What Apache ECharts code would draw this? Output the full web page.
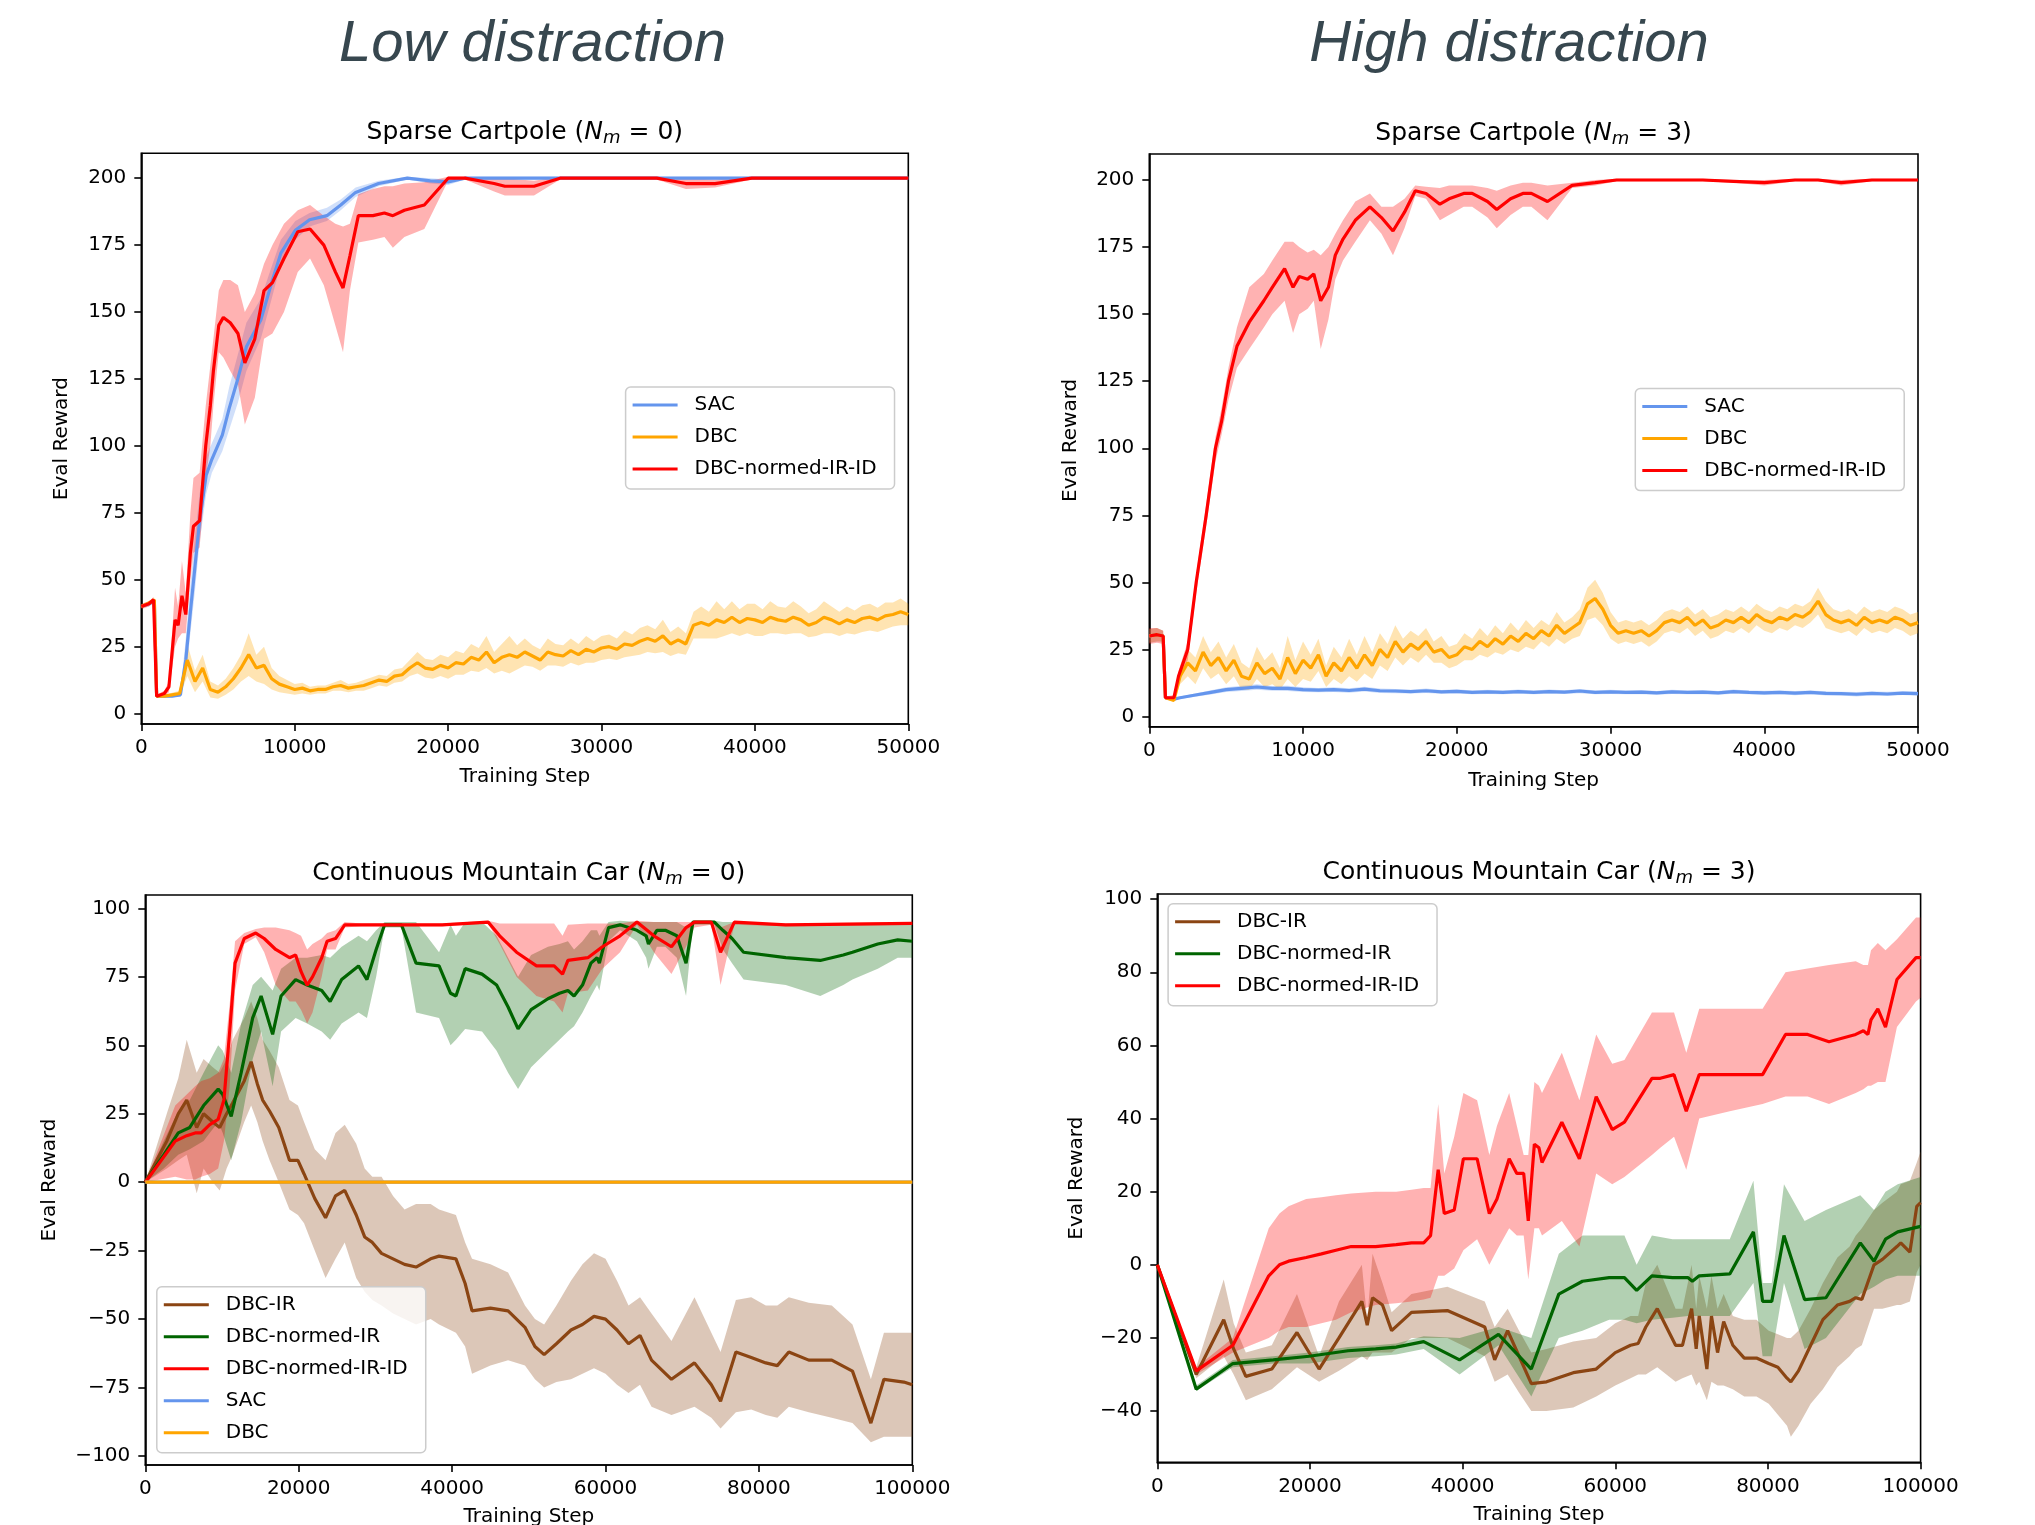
<!DOCTYPE html>
<html>
<head>
<meta charset="utf-8">
<title>DBC - distraction</title>
<script src="https://cdn.jsdelivr.net/npm/echarts@6/dist/echarts.min.js"></script>
<style>
    html, body { margin: 0; padding: 0; background: #ffffff; }
    #chart { width: 2035px; height: 1525px; }
</style>
</head>
<body>
<div id="chart"></div>
<script>
// grille de pas réguliers (axe des étapes d'entraînement)
function grille(debut, pas, fin) {
    const r = [];
    for (let x = debut; x <= fin; x += pas) r.push(x);
    return r;
}

// === Sparse Cartpole (Nm = 0) ===
const p1SacX = [0, 500, 850, 1000, 1500, 2000, 2550, 2900, 3200, 3500, 3800, 4230, 4600, 5280, 5730, 6290, 6850, 7790, 8500, 9100, 10040, 10970, 12100, 13000, 13970, 15470, 17340, 18840, 20000, 21100, 30000, 40000, 50000];
const p1SacY = [40, 41, 42, 6.5, 6.5, 6.5, 7, 20, 38, 55, 72, 89, 95, 104, 114, 125, 137, 147, 161, 172, 180.5, 184.5, 186, 190, 194.7, 198, 200, 199, 198.6, 200, 200, 200, 200];
const p1SacBas = [39.5, 40, 41.5, 6, 6, 6, 6.5, 14, 30, 46, 64, 82, 90, 98, 106, 116, 128, 140, 155, 168, 177, 182, 184, 188, 193, 197, 199.5, 198, 197.5, 199.5, 199.5, 199.5, 199.5];
const p1SacHaut = [40.5, 42, 42.5, 7, 7, 7, 8, 28, 48, 66, 82, 96, 101, 110, 122, 134, 146, 155, 167, 177, 184, 187, 189, 192, 196.5, 199, 200.5, 200, 199.5, 200.5, 200.5, 200.5, 200.5];

const p1DbcX = [0, 400, 850].concat(grille(1000, 500, 50000));
const p1DbcY = [40, 41, 42.5,
    6.5, 6.5, 7, 7.5, 20, 12, 17, 9, 8, 10,
    13, 17, 22, 17, 18, 13, 11, 10, 9, 9.5,
    8.5, 9, 9, 10, 10.5, 9.5, 10, 10.5, 11.5, 12.5,
    12, 14, 14.5, 17, 19, 17, 16.5, 18, 17, 19,
    18.5, 21, 20, 23, 19, 21, 22, 21, 23, 21.5,
    20, 23, 22, 21.5, 23.5, 22, 24, 23, 24.5, 25,
    24, 26, 25.5, 27, 28, 27, 29, 26, 27.5, 26,
    33, 34, 33, 35, 34, 36, 34, 35.5, 35, 34,
    36, 35, 34.5, 36, 35, 33, 34, 36, 35, 33.5,
    35, 34, 35.5, 36, 35, 36.5, 37, 38, 37];
const p1DbcEcart = [0.5, 0.8, 0.8,
    0.5, 0.5, 0.8, 1, 6, 4, 5, 3, 2.5, 3,
    4, 5, 8, 5, 7, 4, 3, 2.5, 2, 2,
    1.5, 1.5, 1.5, 1.5, 2, 1.5, 1.5, 2, 2, 2,
    2, 2.5, 2.5, 3, 4, 3.5, 3.5, 4, 4, 4.5,
    4, 5, 4.5, 6, 4, 5, 7, 4.5, 5, 4,
    4, 5, 4, 4, 4.5, 4, 5, 4, 4.5, 4.5,
    4, 5, 4, 5, 5, 4.5, 6, 4.5, 5, 4,
    5, 6, 5, 7, 5, 6, 5, 5.5, 6, 5,
    6, 5, 5, 6, 5, 4.5, 5, 6, 5, 4.5,
    5, 4.5, 5, 5, 4.5, 5, 4.5, 5, 4];

const p1RedX = [0, 500, 800, 1000, 1500, 1800, 2200, 2400, 2650, 2900, 3200, 3400, 3800, 4200, 4500, 4700, 5050, 5350, 5800, 6300, 6750, 7400, 8000, 8550, 9300, 10200, 11000, 11900, 12650, 13150, 13600, 14150, 15100, 15850, 16400, 17150, 18450, 20000, 21100, 23000, 23700, 25600, 27300, 33600, 35500, 37400, 39800, 50000];
const p1RedY = [40, 41, 42.5, 6.5, 7.5, 10, 35, 33, 44, 37, 60, 70, 72, 100, 115, 128, 145, 148, 146, 142, 131, 140, 158, 161, 170, 180, 181, 175, 165, 159, 171, 186, 186, 187, 186, 188, 190, 200, 200, 198, 197, 197, 200, 200, 198, 198, 200, 200];
const p1RedBas = [39, 40, 41.5, 6, 6.5, 8, 25, 28, 30, 30, 50, 60, 62, 88, 100, 115, 135, 133, 128, 123, 108, 118, 140, 142, 150, 165, 170, 160, 145, 135, 158, 176, 177, 178, 174, 178, 181, 199, 199.5, 195, 193.5, 193.5, 199.5, 199.5, 196, 196.5, 199.5, 199.5];
const p1RedHaut = [41, 42, 43.5, 7, 8.5, 12, 47, 40, 57, 45, 75, 88, 90, 115, 130, 140, 158, 162, 162, 160, 150, 157, 168, 175, 183, 188, 190, 186, 183, 182, 183, 194, 196, 197, 197, 198, 198.5, 200.5, 200.5, 200, 200, 199, 200.5, 200.5, 200, 199.5, 200.5, 200.5];

// === Sparse Cartpole (Nm = 3) ===
const p2SacX = [0, 500, 900, 1050, 1600].concat(grille(2000, 1000, 50000));
const p2SacY = [30, 30.5, 30, 7, 6.5,
    7, 8, 9, 10, 10.5, 11, 10.5, 10.5, 10, 9.8,
    10, 9.7, 10.2, 9.6, 9.5, 9.3, 9.6, 9.2, 9.4, 9,
    9.2, 9, 9.3, 9, 9.3, 9.1, 9.5, 9, 9.2, 9,
    9.1, 8.8, 9.2, 9, 9.1, 8.8, 9.3, 9, 8.8, 9,
    8.7, 9, 8.6, 8.5, 8.3, 8.6, 8.4, 8.7, 8.5];
const p2SacEcart = [2.5, 2.5, 2, 0.5, 0.5,
    0.5, 0.6, 0.8, 0.9, 1, 1, 0.9, 1, 0.9, 0.8,
    0.9, 0.8, 0.9, 0.8, 0.8, 0.7, 0.8, 0.7, 0.8, 0.7,
    0.8, 0.7, 0.8, 0.7, 0.8, 0.7, 0.8, 0.7, 0.8, 0.7,
    0.8, 0.7, 0.8, 0.7, 0.8, 0.7, 0.8, 0.7, 0.8, 0.7,
    0.8, 0.7, 0.8, 0.7, 0.8, 0.7, 0.8, 0.7, 0.8];

const p2DbcX = [0, 500, 900, 1050, 1600].concat(grille(2000, 500, 50000));
const p2DbcY = [30, 30.5, 30, 7, 6,
    15, 20, 17, 24, 19, 22, 17, 21, 15, 14,
    20, 16, 18, 14, 22, 16, 21, 18, 23, 15,
    20, 17, 22, 18, 23, 19, 25, 22, 28, 24,
    27, 25, 28, 24, 25, 22, 23, 26, 25, 28,
    26, 29, 27, 30, 28, 31, 29, 32, 30, 34,
    31, 33, 35, 42, 44, 40, 34, 31, 32, 31,
    32, 30, 32, 35, 36, 35, 37, 34, 36, 33,
    34, 36, 35, 37, 35, 38, 36, 35, 37, 36,
    38, 37, 39, 43, 38, 36, 35, 36, 34, 37,
    35, 36, 35, 37, 36, 34, 35];
const p2DbcEcart = [2.5, 2.5, 2, 0.5, 0.5,
    3, 5, 5, 6, 5, 6, 5, 6, 5, 4,
    6, 5, 6, 4, 8, 5, 7, 5, 6, 4,
    6, 5, 7, 5, 7, 5, 6, 5, 6, 5,
    5, 5, 5, 4, 5, 4, 4, 5, 4, 5,
    4, 5, 4, 5, 4, 5, 4, 4, 4, 5,
    4, 4, 5, 6, 7, 6, 5, 4, 4, 4,
    4, 4, 4, 4, 4, 4, 4, 4, 4, 4,
    4, 4, 4, 4, 4, 4, 4, 4, 4, 4,
    4, 4, 4, 5, 5, 4, 4, 4, 4, 4,
    4, 4, 4, 4, 4, 4, 4];

const p2RedX = [0, 500, 900, 1050, 1600, 1900, 2500, 3050, 3700, 4300, 4700, 5150, 5700, 6500, 7450, 8000, 8800, 9350, 9750, 10300, 10700, 11150, 11650, 12100, 12600, 13400, 14350, 15100, 15850, 16600, 17300, 18000, 18900, 19500, 20450, 21000, 22000, 22600, 23500, 24300, 24850, 25900, 27500, 29000, 30400, 36000, 38000, 40000, 42000, 43500, 45000, 47000, 50000];
const p2RedY = [30, 30.5, 30, 7, 7, 15, 25, 50, 75, 100, 110, 125, 138, 147, 155, 160, 167, 160, 164, 163, 165, 155, 160, 172, 178, 185, 190, 186, 181, 188, 196, 195, 191, 193, 195, 195, 192, 189, 193, 195, 195, 192, 198, 199, 200, 200, 199.5, 199, 200, 200, 199, 200, 200];
const p2RedBas = [27, 27.5, 27, 6.5, 6, 12, 21, 46, 71, 95, 105, 118, 130, 137, 145, 150, 155, 143, 150, 152, 155, 137, 148, 163, 170, 177, 185, 180, 172, 182, 194, 193, 185, 187, 190, 190, 186, 182, 187, 190, 190, 185, 197, 198, 199.5, 199.5, 199, 198, 199.5, 199.5, 198, 199.5, 199.5];
const p2RedHaut = [33, 33, 32, 7.5, 8, 17, 28, 53, 79, 104, 115, 130, 145, 160, 165, 170, 177, 177, 175, 173, 174, 172, 175, 180, 185, 192, 195, 190, 190, 193, 198, 197.5, 197, 198, 198, 198, 197, 196, 198, 199, 199, 198, 199, 200, 200.5, 200.5, 200, 200, 200.5, 200.5, 200, 200.5, 200.5];

// === Continuous Mountain Car (Nm = 0) ===
const p3BrunX = [0, 2800, 4300, 5400, 6700, 7600, 8800, 9700, 10600, 11400, 12900, 13800, 14600, 15300, 16200, 17400, 18100, 18800, 19900, 20700, 22100, 23500, 24800, 26000, 27500, 28600, 29600, 30800, 32300, 33800, 35300, 37200, 38300, 40500, 41700, 42600, 45000, 47300, 49500, 50800, 52000, 53600, 55500, 57000, 58500, 60000, 61500, 63000, 64500, 66000, 68600, 71600, 73800, 75000, 77000, 79000, 80900, 82400, 83900, 86500, 89500, 92200, 94600, 96300, 98900, 100000];
const p3BrunY = [0, 15, 25, 30, 20, 25, 22, 20, 25, 29, 37, 44, 36, 30, 26, 20, 14, 8, 8, 3, -6, -13, -5, -3, -12, -20, -22, -26, -28, -30, -31, -28, -27, -28, -37, -47, -46, -47, -53, -60, -63, -59, -54, -52, -49, -50, -54, -59, -56, -65, -72, -66, -74, -80, -62, -64, -66, -67, -62, -65, -65, -69, -88, -72, -73, -74];
const p3BrunBas = [0, 5, 8, 10, -4, 5, 0, -3, 5, 10, 22, 28, 22, 15, 8, 0, -5, -10, -12, -15, -25, -35, -28, -22, -35, -40, -43, -45, -48, -50, -52, -50, -52, -55, -60, -70, -67, -65, -67, -72, -75, -73, -72, -70, -68, -70, -74, -77, -74, -82, -85, -82, -86, -90, -84, -83, -85, -86, -82, -84, -86, -88, -95, -93, -93, -93];
const p3BrunHaut = [0, 25, 38, 52, 40, 45, 42, 40, 45, 52, 60, 66, 60, 52, 48, 42, 36, 30, 28, 22, 12, 8, 18, 21, 14, 5, 2, 2, -5, -10, -8, -8, -10, -12, -22, -28, -30, -33, -45, -50, -52, -45, -36, -30, -26, -28, -36, -45, -42, -48, -58, -42, -55, -62, -43, -42, -45, -45, -42, -44, -45, -52, -72, -55, -55, -55];

const p3VertX = [0, 2400, 4300, 5800, 7600, 9500, 10100, 11200, 12500, 14000, 15100, 16600, 17700, 19600, 21100, 23000, 24100, 25600, 27800, 28900, 30100, 31200, 33400, 35300, 38300, 39800, 40500, 41700, 43900, 45800, 47300, 48600, 50300, 52500, 54000, 55100, 55900, 57000, 58100, 58900, 59200, 60400, 61900, 64100, 65300, 65600, 66700, 67800, 69300, 70500, 71400, 74200, 75300, 76500, 78000, 83500, 88000, 91000, 92200, 95500, 98100, 100000];
const p3VertY = [0, 10, 18, 20, 28, 34, 32, 24, 40, 60, 68, 54, 68, 74, 72, 70, 66, 74, 79, 74, 85, 94, 94, 80, 79, 69, 68, 78, 76, 72, 64, 56, 63, 67, 69, 70, 68, 72, 80, 82, 80, 93, 94, 92, 90, 87, 92, 92, 90, 80, 95, 95, 92, 89, 84, 82, 81, 83, 84, 87, 88.5, 88];
const p3VertBas = [0, 5, 10, 12, 15, 22, 18, 8, 22, 45, 55, 35, 55, 60, 58, 55, 52, 58, 62, 60, 75, 93, 93, 62, 60, 50, 52, 56, 55, 48, 40, 34, 42, 48, 52, 55, 57, 62, 68, 72, 70, 88, 92, 88, 82, 78, 86, 86, 82, 68, 94, 94, 85, 80, 74, 72, 68, 72, 74, 78, 82, 82];
const p3VertHaut = [0, 15, 26, 30, 40, 50, 48, 40, 58, 72, 75, 70, 78, 82, 82, 83, 82, 86, 90, 88, 92, 95, 95, 95, 84, 94, 90, 95, 95, 90, 82, 75, 83, 86, 87, 88, 85, 88, 92, 92, 90, 95, 95.5, 95, 95, 95, 95, 95, 95, 93, 95.5, 95.5, 95, 95, 95, 94, 94, 94, 94, 94, 94.5, 94.5];

const p3RedX = [0, 3900, 5400, 6500, 7300, 8400, 9500, 10250, 11000, 11700, 12900, 14400, 15500, 17000, 18800, 19600, 20300, 21100, 21800, 23000, 23700, 24800, 26000, 28200, 38700, 44700, 46200, 48400, 51000, 53300, 54400, 55100, 57700, 59600, 61900, 64100, 66300, 68600, 70500, 71600, 73800, 75000, 76800, 83500, 100000];
const p3RedY = [0, 15, 17, 18, 18, 21, 23, 30, 55, 80, 89, 91, 89, 85, 82, 83, 77, 72, 75, 82, 88, 89, 94, 94, 94, 95, 90, 84, 79, 79, 76, 81, 82, 86, 90, 95, 90, 86, 93, 95, 95, 84, 95, 94, 94.5];
const p3RedBas = [0, 2, 1, 1, 2, 3, 5, 15, 35, 70, 87, 89.5, 84, 72, 66, 66, 63, 58, 62, 75, 85, 85, 93, 93.5, 93.5, 94.5, 87, 75, 68, 66, 62, 69, 70, 78, 84, 94, 84, 76, 86, 93, 94, 72, 94, 93.5, 94];
const p3RedHaut = [0, 28, 32, 35, 37, 38, 40, 45, 65, 88, 91, 92.5, 93, 93, 92, 91, 90, 85, 87, 89, 91, 92, 95, 94.5, 94.5, 95.5, 94.5, 94.5, 94.5, 94.5, 90, 94, 94.5, 94.5, 94.5, 95.5, 95, 95, 95, 95, 95, 93, 95, 94.5, 95];

const p3PlatX = [0, 100000];
const p3PlatY = [0, 0];

// === Continuous Mountain Car (Nm = 3) ===
const p4BrunX = [0, 5100, 8700, 10000, 11600, 15000, 18300, 21200, 23800, 26800, 27500, 28200, 29500, 30700, 33300, 38000, 42900, 44200, 45900, 47400, 49000, 51000, 54500, 57500, 60000, 62000, 63000, 64000, 65500, 67900, 68800, 70000, 70600, 71000, 72000, 72600, 73400, 74200, 75400, 76900, 78500, 80100, 81300, 82500, 83000, 84000, 85600, 87200, 89100, 90700, 91500, 92300, 93900, 95000, 96900, 97400, 98600, 99500, 100000];
const p4BrunY = [0, -30, -15, -23, -30.5, -28.5, -18.5, -28.5, -20, -10, -16.5, -9, -11, -18, -13, -12.5, -17, -26, -18, -25, -32.5, -32, -29.5, -28.5, -24, -22, -21.5, -17, -12, -22, -22, -12, -23, -14, -28.5, -14, -24, -15.5, -22, -25.5, -25.5, -27, -28, -31, -32, -29, -22, -15, -11, -10, -9, -9.5, 0, 1.5, 5, 6, 3.5, 16, 17];
const p4BrunBas = [0, -31, -25, -30, -37, -34, -28, -32, -29, -25, -26, -24, -24, -24, -20, -20, -25, -32, -30, -35, -40, -40, -39, -36, -33, -31, -30, -30, -28, -32, -31, -30, -33, -32, -37, -32, -33, -33, -34, -36, -36, -38, -41, -44, -47, -44, -38, -34, -28, -25, -23, -22, -12, -12, -11, -11, -10, -2, 0];
const p4BrunHaut = [0, -28, -4, -16, -24, -22, -8, -25, -10, 0, -15, 3, -5, -13, -8, -6, -10, -17, -12, -18, -24, -23, -21, -20, -16, -14, -14, -5, 0, -12, -12, 0, -12, -3, -12, -3, -12, -8, -14, -15, -15, -18, -19, -20, -20, -18, -12, -5, 2, 5, 8, 10, 15, 17, 20, 22, 23, 28, 31];

const p4VertX = [0, 5100, 9900, 15200, 19900, 25000, 28600, 31300, 34900, 39600, 44700, 49000, 52600, 55700, 59200, 61200, 62800, 64800, 67500, 69500, 70100, 71000, 75000, 78100, 79300, 80500, 82100, 84800, 87600, 92100, 93900, 95400, 97000, 100000];
const p4VertY = [0, -34, -27, -26, -25, -23.5, -23, -22.5, -21, -26, -19, -28.5, -8, -4.5, -3.5, -3.5, -7, -3, -3.5, -3.5, -4.5, -3, -2.5, 9, -10, -10, 8, -9.5, -9, 6, 1, 7, 9, 10.5];
const p4VertBas = [0, -34.5, -28, -27, -27, -25.5, -25, -24.5, -23, -30, -22, -36, -20, -18, -15, -15, -16, -15, -14.5, -14, -14, -14, -14, -5, -25, -25, -5, -23, -20, -8, -6, -4, -3, -3];
const p4VertHaut = [0, -33, -26, -25, -24, -22.5, -22, -21.5, -19.5, -20, -17, -20, 3, 8, 8, 8, 0, 8, 7, 7, 7, 7, 7, 23, -5, -5, 22, 12, 15, 19, 15, 20, 22, 24];

const p4RedX = [0, 5100, 9900, 14600, 16000, 17200, 19500, 21500, 23400, 25400, 28600, 31300, 33300, 34900, 35800, 36800, 37600, 38900, 40100, 41900, 43500, 44500, 46100, 47100, 48000, 48600, 49400, 50000, 50400, 53000, 55300, 57500, 59600, 61200, 64800, 65900, 67700, 69300, 71000, 75000, 79300, 82300, 85200, 88000, 91500, 92500, 93100, 93500, 94400, 95400, 96900, 99400, 100000];
const p4RedY = [0, -29, -22, -3, 0, 1, 2, 3, 4, 5, 5, 5.5, 6, 6, 8, 26, 14, 15, 29, 29, 14, 18, 29, 25, 25, 12, 33, 32, 28, 39, 29, 46, 37, 39, 51, 51, 52, 42, 52, 52, 52, 63, 63, 61, 63, 64, 63, 67, 70, 65, 78, 84, 84];
const p4RedBas = [0, -30, -24, -20, -18, -17, -17, -16, -15, -13, -11, -10.5, -10, -9.5, -9, -3, -3, -1, 4, 7, 0, 4, 10, 8, 8, -4, 10, 10, 8, 12, 5, 25, 22, 24, 30, 32, 35, 26, 40, 42, 44, 46, 46, 44, 47, 48, 49, 49, 50, 50, 65, 72, 73];
const p4RedHaut = [0, -28, -20, 10, 14, 16, 18, 18.5, 19, 19.5, 20, 20, 20.5, 21, 21, 44, 25, 35, 47, 45, 30, 38, 47, 38, 30, 30, 50, 49, 47, 58, 45, 63, 55, 56, 69, 69, 69, 58, 70, 70, 70, 80, 81, 82, 83, 82, 82, 86, 88, 86, 89, 95, 95];

// graduations
const ticksCartpole = [0, 25, 50, 75, 100, 125, 150, 175, 200];
const ticksCar0 = [-100, -75, -50, -25, 0, 25, 50, 75, 100];
const ticksCar3 = [-40, -20, 0, 20, 40, 60, 80, 100];

// couleurs
const BLEU = "#6495ED", ORANGE = "#FFA500", ROUGE = "#FF0000", BRUN = "#8B4513", VERT = "#006400";
const FOND = {
    [BLEU]: "rgba(100,149,237,0.3)",
    [ORANGE]: "rgba(255,165,0,0.3)",
    [ROUGE]: "rgba(255,0,0,0.3)",
    [BRUN]: "rgba(139,69,19,0.3)",
    [VERT]: "rgba(0,100,0,0.3)"
};
const POLICE = "'DejaVu Sans', 'Liberation Sans', sans-serif";

function points(xs, ys) {
    return xs.map((x, i) => [x, ys[i]]);
}
function decale(ys, ecarts, signe) {
    return ys.map((y, i) => y + signe * ecarts[i]);
}
function moins(v) {
    return v < 0 ? "\u2212" + (-v) : String(v);
}

function courbe(nom, g, xs, ys, couleur) {
    return {
        name: nom, type: "line", xAxisIndex: g, yAxisIndex: g,
        data: points(xs, ys), symbol: "none", showSymbol: false,
        lineStyle: { color: couleur, width: 3.2 }, itemStyle: { color: couleur },
        z: 3, clip: true
    };
}

// bande d'écart (remplissage entre bas et haut)
function bande(g, xs, bas, haut, couleur) {
    const d = xs.map((x, i) => [x, bas[i], haut[i]]);
    return {
        type: "custom", xAxisIndex: g, yAxisIndex: g, z: 2, silent: true, clip: true,
        data: d, encode: { x: 0, y: [1, 2] },
        renderItem: function (params, api) {
            if (params.dataIndex !== 0) return;
            const dessus = d.map(p => api.coord([p[0], p[2]]));
            const dessous = d.map(p => api.coord([p[0], p[1]])).reverse();
            return {
                type: "polygon",
                shape: { points: dessus.concat(dessous) },
                style: { fill: FOND[couleur] }
            };
        }
    };
}

// positions des 4 graphes
const cadres = [
    { left: 141.3, top: 153.3, width: 767, height: 570.7, ymin: -3.9, ymax: 209.3, xmax: 50000, pas: 10000, ticks: ticksCartpole, gapX: 53, gapY: 80 },
    { left: 1149.3, top: 154, width: 768.7, height: 572.7, ymin: -3.8, ymax: 209.7, xmax: 50000, pas: 10000, ticks: ticksCartpole, gapX: 54, gapY: 79 },
    { left: 145.3, top: 895, width: 767, height: 570, ymin: -103.3, ymax: 104.9, xmax: 100000, pas: 20000, ticks: ticksCar0, gapX: 52, gapY: 96 },
    { left: 1157.3, top: 894, width: 763.3, height: 568.3, ymin: -54, ymax: 101.4, xmax: 100000, pas: 20000, ticks: ticksCar3, gapX: 52, gapY: 81 }
];

const texteAxe = { fontFamily: POLICE, fontSize: 20, color: "#000" };
const trait = { color: "#000", width: 1.6 };

const grids = cadres.map(c => ({
    left: c.left, top: c.top, width: c.width, height: c.height,
    show: true, borderColor: "#000", borderWidth: 1.6, backgroundColor: "transparent",
    outerBoundsMode: "none", containLabel: false
}));

const xAxes = cadres.map((c, i) => ({
    type: "value", gridIndex: i, min: 0, max: c.xmax, interval: c.pas,
    axisLine: { show: true, onZero: false, lineStyle: trait },
    axisTick: { show: true, length: 7, lineStyle: trait },
    axisLabel: Object.assign({ margin: 14, formatter: v => String(v), showMinLabel: true, showMaxLabel: true, hideOverlap: false }, texteAxe),
    splitLine: { show: false },
    name: "Training Step", nameLocation: "middle", nameGap: c.gapX,
    nameTextStyle: Object.assign({ verticalAlign: "middle" }, texteAxe)
}));

const yAxes = cadres.map((c, i) => ({
    type: "value", gridIndex: i, min: c.ymin, max: c.ymax,
    axisLine: { show: true, onZero: false, lineStyle: trait },
    axisTick: { show: true, length: 7, lineStyle: trait, customValues: c.ticks },
    axisLabel: Object.assign({ margin: 15, formatter: moins, customValues: c.ticks, hideOverlap: false }, texteAxe),
    splitLine: { show: false },
    name: "Eval Reward", nameLocation: "middle", nameGap: c.gapY,
    nameTextStyle: Object.assign({ verticalAlign: "middle" }, texteAxe)
}));

function legende(noms, x, y) {
    return {
        data: noms, left: x, top: y, orient: "vertical",
        icon: "rect", itemWidth: 45, itemHeight: 3, itemGap: 12,
        padding: [8, 18, 10, 7],
        backgroundColor: "rgba(255,255,255,0.8)", borderColor: "#cccccc", borderWidth: 1.5, borderRadius: 5,
        textStyle: { fontFamily: POLICE, fontSize: 20, color: "#000", padding: [0, 0, 0, 12] },
        selectedMode: false
    };
}

function titre(texte, n, cx, cy) {
    return {
        type: "text", x: cx, y: cy, silent: true,
        style: {
            text: "{t|" + texte + " (}{n|N}{s|m}{t| = " + n + ")}",
            align: "center", verticalAlign: "middle", fill: "#000",
            rich: {
                t: { fontFamily: POLICE, fontSize: 25, lineHeight: 30, fill: "#000" },
                n: { fontFamily: POLICE, fontSize: 25, fontStyle: "italic", lineHeight: 30, fill: "#000" },
                s: { fontFamily: POLICE, fontSize: 18, fontStyle: "italic", lineHeight: 16, verticalAlign: "bottom", fill: "#000" }
            }
        }
    };
}

function grandTitre(texte, cx) {
    return {
        type: "text", x: cx, y: 45, silent: true,
        style: {
            text: texte, fill: "#37474f", align: "center", verticalAlign: "middle",
            font: "italic 58px 'Liberation Sans', Arial, sans-serif"
        }
    };
}

const series = [
    // Sparse Cartpole Nm = 0
    bande(0, p1SacX, p1SacBas, p1SacHaut, BLEU),
    bande(0, p1DbcX, decale(p1DbcY, p1DbcEcart, -1), decale(p1DbcY, p1DbcEcart, 1), ORANGE),
    bande(0, p1RedX, p1RedBas, p1RedHaut, ROUGE),
    courbe("SAC", 0, p1SacX, p1SacY, BLEU),
    courbe("DBC", 0, p1DbcX, p1DbcY, ORANGE),
    courbe("DBC-normed-IR-ID", 0, p1RedX, p1RedY, ROUGE),
    // Sparse Cartpole Nm = 3
    bande(1, p2SacX, decale(p2SacY, p2SacEcart, -1), decale(p2SacY, p2SacEcart, 1), BLEU),
    bande(1, p2DbcX, decale(p2DbcY, p2DbcEcart, -1), decale(p2DbcY, p2DbcEcart, 1), ORANGE),
    bande(1, p2RedX, p2RedBas, p2RedHaut, ROUGE),
    courbe("SAC", 1, p2SacX, p2SacY, BLEU),
    courbe("DBC", 1, p2DbcX, p2DbcY, ORANGE),
    courbe("DBC-normed-IR-ID", 1, p2RedX, p2RedY, ROUGE),
    // Mountain Car Nm = 0
    bande(2, p3BrunX, p3BrunBas, p3BrunHaut, BRUN),
    bande(2, p3VertX, p3VertBas, p3VertHaut, VERT),
    bande(2, p3RedX, p3RedBas, p3RedHaut, ROUGE),
    courbe("DBC-IR", 2, p3BrunX, p3BrunY, BRUN),
    courbe("DBC-normed-IR", 2, p3VertX, p3VertY, VERT),
    courbe("DBC-normed-IR-ID", 2, p3RedX, p3RedY, ROUGE),
    courbe("SAC", 2, p3PlatX, p3PlatY, BLEU),
    courbe("DBC", 2, p3PlatX, p3PlatY, ORANGE),
    // Mountain Car Nm = 3
    bande(3, p4BrunX, p4BrunBas, p4BrunHaut, BRUN),
    bande(3, p4VertX, p4VertBas, p4VertHaut, VERT),
    bande(3, p4RedX, p4RedBas, p4RedHaut, ROUGE),
    courbe("DBC-IR", 3, p4BrunX, p4BrunY, BRUN),
    courbe("DBC-normed-IR", 3, p4VertX, p4VertY, VERT),
    courbe("DBC-normed-IR-ID", 3, p4RedX, p4RedY, ROUGE)
];

const chart = echarts.init(document.getElementById("chart"), null, { renderer: "canvas" });
chart.setOption({
    backgroundColor: "#ffffff",
    animation: false,
    grid: grids,
    xAxis: xAxes,
    yAxis: yAxes,
    legend: [
        legende(["SAC", "DBC", "DBC-normed-IR-ID"], 625.6, 387),
        legende(["SAC", "DBC", "DBC-normed-IR-ID"], 1635.3, 388.6),
        legende(["DBC-IR", "DBC-normed-IR", "DBC-normed-IR-ID", "SAC", "DBC"], 156.8, 1286.7),
        legende(["DBC-IR", "DBC-normed-IR", "DBC-normed-IR-ID"], 1168.1, 903.7)
    ],
    graphic: [
        grandTitre("Low distraction", 532.5),
        grandTitre("High distraction", 1509),
        titre("Sparse Cartpole", 0, 524.8, 132),
        titre("Sparse Cartpole", 3, 1533.6, 133),
        titre("Continuous Mountain Car", 0, 528.8, 873.5),
        titre("Continuous Mountain Car", 3, 1539, 872.5)
    ],
    series: series
});
window.addEventListener("resize", () => chart.resize());
</script>
</body>
</html>
